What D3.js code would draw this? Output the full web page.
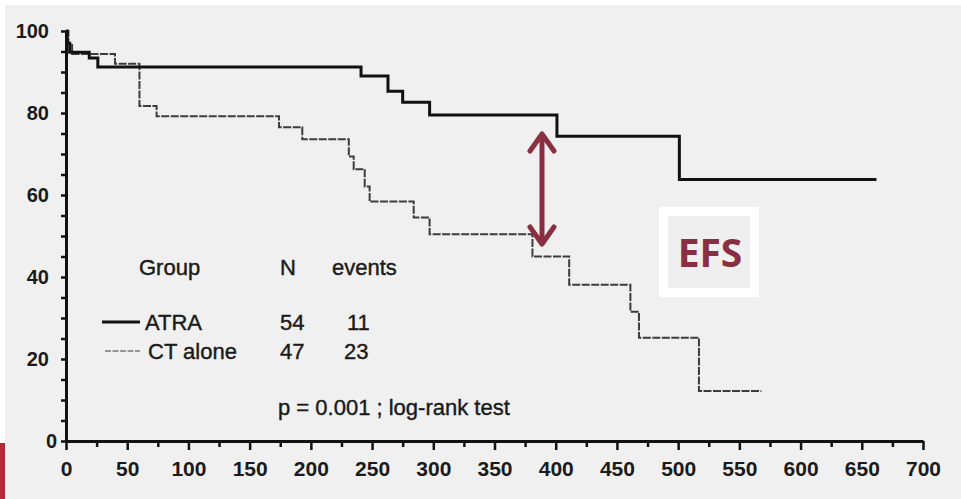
<!DOCTYPE html>
<html>
<head>
<meta charset="utf-8">
<script src="https://cdn.jsdelivr.net/npm/d3@7"></script>
<style>
  body { margin: 0; background: #fff; }
  svg { display: block; }
  text { font-family: "Liberation Sans", Arial, sans-serif; fill: #1a1a1a; }
</style>
</head>
<body>
<svg width="961" height="499"></svg>
<script>
"use strict";

// Kaplan-Meier steps (time in days, % event free)
const atraTimes = [0, 1, 3, 19, 26, 241, 263, 275, 297, 401, 501, 662];
const atraSurv  = [100, 97, 94.8, 93.4, 91.2, 89, 85.3, 82.6, 79.5, 74.3, 63.8, 63.8];
const ctTimes = [0, 2, 5, 40, 60, 74, 174, 193, 231, 235, 244, 248, 284, 297, 381, 411, 461, 468, 517, 568];
const ctSurv  = [100, 97, 94.4, 92, 81.7, 79.2, 76.5, 73.6, 69.4, 66.3, 62.1, 58.4, 54.5, 50.4, 45, 38.1, 31.5, 25.2, 12.2, 12.2];

const legendHead = ["Group", "N", "events"];
const groups = ["ATRA", "CT alone"];
const groupN = [54, 47];
const groupEvents = [11, 23];
const pText = "p = 0.001 ; log-rank test";

const svg = d3.select("svg");
const maroon = "#8a2f41";

svg.append("rect").attr("x", 5).attr("y", 5).attr("width", 956).attr("height", 494).attr("fill", "#f0f0f0");
svg.append("rect").attr("x", 0).attr("y", 443).attr("width", 5).attr("height", 56).attr("fill", "#b52a3a");

const x = d3.scaleLinear().domain([0, 700]).range([66, 923]);
const y = d3.scaleLinear().domain([0, 100]).range([441, 31]);

// axes
const xAxis = d3.axisBottom(x)
    .tickValues(d3.range(0, 701, 25))
    .tickSize(6)
    .tickSizeOuter(0)
    .tickFormat(d => d % 50 === 0 ? d : "");
const gx = svg.append("g").attr("transform", `translate(0,${y(0)})`).call(xAxis);
gx.select(".domain").attr("stroke-width", 3).attr("stroke", "#111");
gx.selectAll(".tick line").attr("stroke-width", 2.5).attr("stroke", "#111")
    .attr("y2", d => d % 50 === 0 ? 9 : 6);
gx.selectAll(".tick text").attr("font-size", 21).attr("y", 20).attr("dy", "0.71em")
    .attr("font-weight", "bold").attr("fill", "#1a1a1a");

const yAxis = d3.axisLeft(y)
    .tickValues(d3.range(0, 101, 5))
    .tickSize(5)
    .tickSizeOuter(0)
    .tickFormat(d => d % 20 === 0 ? d : "");
const gy = svg.append("g").attr("transform", `translate(${x(0)},0)`).call(yAxis);
gy.select(".domain").attr("stroke-width", 3).attr("stroke", "#111");
gy.selectAll(".tick line").attr("stroke-width", 2.5).attr("stroke", "#111");
gy.selectAll(".tick text").attr("font-size", 20).attr("x", d => d === 0 ? -9 : -17)
    .attr("font-weight", "bold").attr("fill", "#1a1a1a");

// curves
const line = d3.line()
    .x(d => x(d[0]))
    .y(d => y(d[1]))
    .curve(d3.curveStepAfter);

svg.append("path")
    .datum(d3.zip(ctTimes, ctSurv))
    .attr("d", line)
    .attr("fill", "none")
    .attr("stroke", "#3c3c3c")
    .attr("stroke-width", 2)
    .attr("stroke-dasharray", "8,1.5");

svg.append("path")
    .datum(d3.zip(atraTimes, atraSurv))
    .attr("d", line)
    .attr("fill", "none")
    .attr("stroke", "#111")
    .attr("stroke-width", 3);

// legend block
const lg = svg.append("g").attr("font-size", 22)
    .attr("stroke", "#1a1a1a").attr("stroke-width", 0.4);
lg.append("text").attr("x", 139).attr("y", 275).text(legendHead[0]);
lg.append("text").attr("x", 280).attr("y", 275).text(legendHead[1]);
lg.append("text").attr("x", 332).attr("y", 275).text(legendHead[2]);

const rowY = [330, 359];
const lineStyle = [{c: "#111", w: 3, dash: null}, {c: "#777", w: 1.5, dash: "6,1.5"}];
groups.forEach((g, i) => {
    lg.append("line")
        .attr("x1", i === 0 ? 102 : 105).attr("x2", 140)
        .attr("y1", rowY[i] - 8).attr("y2", rowY[i] - 8)
        .attr("stroke", lineStyle[i].c)
        .attr("stroke-width", lineStyle[i].w)
        .attr("stroke-dasharray", lineStyle[i].dash);
    lg.append("text").attr("x", i === 0 ? 145 : 148).attr("y", rowY[i]).text(g);
    lg.append("text").attr("x", 280).attr("y", rowY[i]).text(groupN[i]);
    lg.append("text").attr("x", i === 0 ? 347 : 344).attr("y", rowY[i]).text(groupEvents[i]);
});
lg.append("text").attr("x", 278).attr("y", 415).text(pText);

// difference arrow
const ax = 542, ay1 = 131, ay2 = 247;
svg.append("line").attr("x1", ax).attr("x2", ax).attr("y1", ay1 + 3).attr("y2", ay2 - 3)
    .attr("stroke", maroon).attr("stroke-width", 5);
svg.append("path")
    .attr("d", `M${ax - 12},${ay1 + 20} L${ax},${ay1 + 3} L${ax + 12},${ay1 + 20}`)
    .attr("fill", "none").attr("stroke", maroon).attr("stroke-width", 5)
    .attr("stroke-linecap", "round").attr("stroke-linejoin", "round");
svg.append("path")
    .attr("d", `M${ax - 12},${ay2 - 20} L${ax},${ay2 - 3} L${ax + 12},${ay2 - 20}`)
    .attr("fill", "none").attr("stroke", maroon).attr("stroke-width", 5)
    .attr("stroke-linecap", "round").attr("stroke-linejoin", "round");

// EFS label box
svg.append("rect").attr("x", 663.5).attr("y", 211.5).attr("width", 91).attr("height", 81)
    .attr("fill", "#efefef").attr("stroke", "#fff").attr("stroke-width", 9);
svg.append("text").attr("x", 710).attr("y", 267).attr("text-anchor", "middle")
    .attr("font-size", 39).attr("font-weight", "bold")
    .style("font-family", "'Open Sans', 'Noto Sans', sans-serif")
    .style("fill", maroon).text("EFS");
</script>
</body>
</html>
